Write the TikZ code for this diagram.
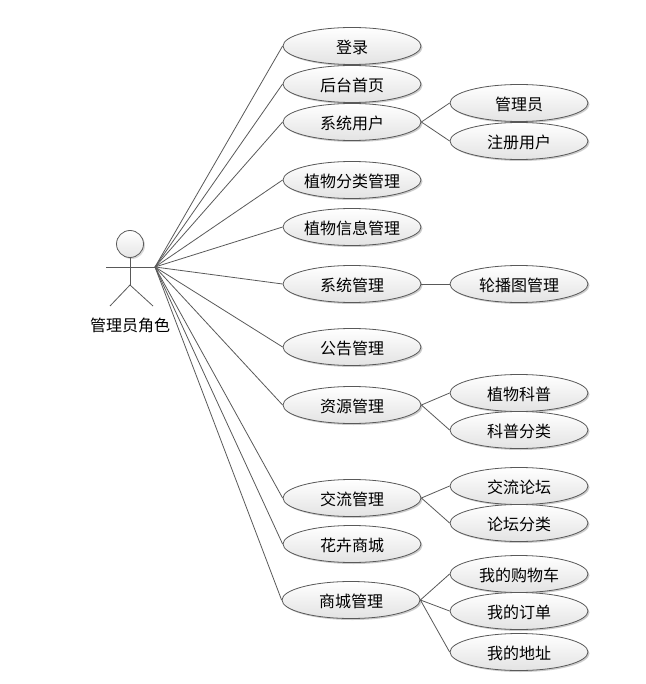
\documentclass[tikz,border=0pt]{standalone}
\usepackage{fontspec}
\setmainfont{Noto Sans CJK SC}
\usetikzlibrary{shadows,shapes.geometric}
\tikzset{
  usecase/.style={ellipse,draw=black!65,line width=0.8pt,top color=white,bottom color=black!11,
    minimum width=138pt,minimum height=37pt,inner sep=0pt,font=\fontsize{16}{18}\selectfont,
    text height=14.5pt,text depth=0pt,
    drop shadow={shadow xshift=1.5pt,shadow yshift=-1.5pt,fill=black,opacity=0.2}},
  link/.style={draw=black!65,line width=0.8pt},
  actor/.style={draw=black!65,line width=0.8pt}
}
\begin{document}
\begin{tikzpicture}[x=1pt,y=-1pt]
  \useasboundingbox (0,0) rectangle (645,684);

  % actor
  \node[circle,actor,top color=white,bottom color=black!10,minimum size=27pt,inner sep=0pt,
    drop shadow={shadow xshift=1.5pt,shadow yshift=-1.5pt,fill=black,opacity=0.15}] (head) at (130,244) {};
  \coordinate (hip) at (130,285);
  \coordinate (handL) at (106,267);
  \coordinate (handR) at (155,267);
  \coordinate (footL) at (110,306);
  \coordinate (footR) at (153,306);
  \draw[actor] (head) -- (hip);
  \draw[actor] (handL) -- (handR);
  \draw[actor] (footL) -- (hip) -- (footR);
  \node[font=\fontsize{16}{18}\selectfont] (role) at (130,325) {管理员角色};

  % first level
  \node[usecase] (login) at (352,46) {登录};
  \node[usecase] (home) at (352,84) {后台首页};
  \node[usecase] (user) at (352,122) {系统用户};
  \node[usecase] (plantcat) at (352,180) {植物分类管理};
  \node[usecase] (plantinfo) at (352,227) {植物信息管理};
  \node[usecase] (system) at (352,284) {系统管理};
  \node[usecase] (notice) at (352,347) {公告管理};
  \node[usecase] (resource) at (352,405) {资源管理};
  \node[usecase] (forum) at (352,498) {交流管理};
  \node[usecase] (flower) at (352,544) {花卉商城};
  \node[usecase] (shop) at (351,600) {商城管理};

  % second level
  \node[usecase] (admin) at (519,103) {管理员};
  \node[usecase] (member) at (519,141) {注册用户};
  \node[usecase] (banner) at (519,284) {轮播图管理};
  \node[usecase] (science) at (519,393) {植物科普};
  \node[usecase] (scicat) at (519,430) {科普分类};
  \node[usecase] (board) at (519,486) {交流论坛};
  \node[usecase] (boardcat) at (519,523) {论坛分类};
  \node[usecase] (cart) at (519,574) {我的购物车};
  \node[usecase] (order) at (519,611) {我的订单};
  \node[usecase] (address) at (519,652) {我的地址};

  % connectors
  \foreach \child in {login,home,user,plantcat,plantinfo,system,notice,resource,forum,flower,shop}
    \draw[link] (handR) -- (\child.west);
  \foreach \parent/\child in {user/admin,user/member,system/banner,resource/science,resource/scicat,
    forum/board,forum/boardcat,shop/cart,shop/order,shop/address}
    \draw[link] (\parent.east) -- (\child.west);
\end{tikzpicture}
\end{document}
